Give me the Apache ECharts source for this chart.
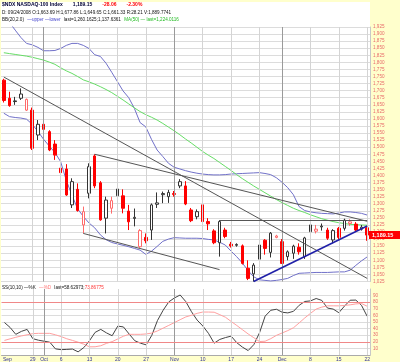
<!DOCTYPE html>
<html><head><meta charset="utf-8">
<script src="https://cdn.jsdelivr.net/npm/echarts@6/dist/echarts.min.js"></script>
<style>html,body{margin:0;padding:0;background:#FFFFCC}#c{width:400px;height:362px}</style>
</head><body><div id="c"></div><script>
const dates = ['2008-09-22','2008-09-23','2008-09-24','2008-09-25','2008-09-26','2008-09-29','2008-09-30',
'2008-10-01','2008-10-02','2008-10-03','2008-10-06','2008-10-07','2008-10-08','2008-10-09','2008-10-10',
'2008-10-13','2008-10-14','2008-10-15','2008-10-16','2008-10-17','2008-10-20','2008-10-21','2008-10-22','2008-10-23','2008-10-24',
'2008-10-27','2008-10-28','2008-10-29','2008-10-30','2008-10-31','2008-11-03','2008-11-04','2008-11-05','2008-11-06','2008-11-07',
'2008-11-10','2008-11-11','2008-11-12','2008-11-13','2008-11-14','2008-11-17','2008-11-18','2008-11-19','2008-11-20','2008-11-21',
'2008-11-24','2008-11-25','2008-11-26','2008-11-28','2008-12-01','2008-12-02','2008-12-03','2008-12-04','2008-12-05',
'2008-12-08','2008-12-09','2008-12-10','2008-12-11','2008-12-12','2008-12-15','2008-12-16','2008-12-17','2008-12-18','2008-12-19','2008-12-22'];
const opens  = [1737,1673,1663.69,1673,1631,1631,1543,1581,1555,1511,1426,1423,1296,1351,1225,1337,1469,1374,1249,1284,1328,1328,1274,1248,1148,1181,1207,1298,1332,1325,1336,1363,1363,1278,1254,1296,1237,1204,1162,1207,1157,1153,1151,1072,1052,1104,1171,1128,1181,1166,1113,1125,1146,1113,1201,1203,1218,1207,1172,1213,1213,1230,1228,1210,1215];
const closes = [1665,1647,1661.33,1688,1669,1496,1581,1563,1490,1472,1410,1331,1378,1276,1272,1431,1363,1243,1313,1311,1352,1284,1236,1252,1205,1169,1296,1303,1336,1340,1333,1378,1299,1240,1272,1237,1229,1162,1237,1184,1151,1156,1089,1036,1083,1154,1142,1196,1186,1089,1130,1150,1130,1179,1225,1210,1221,1178,1205,1181,1242,1236,1207,1217.21,1189.15];
const lows   = [1658,1643,1649.65,1667,1628,1490,1525,1555,1486,1455,1340,1328,1285,1272,1195,1319,1355,1240,1195,1265,1310,1266,1207,1220,1144,1160,1172,1285,1302,1303,1325,1355,1295,1235,1245,1230,1207,1157,1113,1178,1145,1148,1085,1030,1025,1095,1120,1110,1178,1087,1100,1105,1120,1105,1195,1195,1205,1172,1160,1175,1205,1222,1200,1205,1169];
const highs  = [1742,1696,1677.86,1708,1672,1640,1596,1585,1560,1525,1432,1440,1390,1372,1290,1443,1475,1380,1325,1325,1365,1351,1296,1283,1210,1195,1301,1340,1343,1349,1345,1387,1380,1285,1280,1300,1249,1210,1242,1215,1165,1160,1156,1100,1090,1165,1175,1200,1190,1175,1135,1155,1160,1183,1235,1225,1230,1215,1210,1218,1247,1245,1235,1225,1218];
const bbUpper = [1968,1941,1914,1888,1867,1862,1853,1841,1841,1842,1849,1860,1867,1867,1860,1849,1827,1821,1797,1765,1732,1699,1675,1637,1587,1572,1528,1490,1467,1443,1429,1423,1417,1412,1408,1405,1403,1402,1402,1403,1405,1406,1407,1408,1409,1410,1407,1403,1392,1376,1357,1332,1290,1276,1271,1268,1266,1265,1264,1267,1271,1271,1269,1266,1260];
const bbLower = [1620,1608,1605,1603,1599,1581,1556,1528,1504,1481,1449,1383,1330,1282,1255,1232,1215,1190,1173,1163,1158,1153,1148,1142,1136,1121,1132,1149,1167,1175,1180,1179,1178,1178,1178,1177,1174,1172,1164,1154,1133,1113,1091,1064,1042,1031,1029,1027,1029,1032,1036,1046,1054,1055,1056,1057,1057,1057,1058,1059,1059,1065,1082,1098,1112];
const ma50 = [1834,1831,1828,1825,1822,1818,1813,1808,1801,1793,1781,1770,1761,1750,1738,1731,1723,1714,1704,1693,1680,1667,1653,1639,1626,1615,1606,1596,1584,1571,1558,1544,1529,1515,1500,1485,1472,1460,1446,1432,1418,1403,1389,1376,1363,1351,1339,1327,1315,1304,1294,1284,1276,1269,1261,1254,1247,1242,1237,1233,1230,1227,1226,1225,1224];
const stochK = [49.2,41.7,31.3,35.8,38.8,24.8,22.4,20.9,19.4,9.3,8.1,8.5,9,4.8,11.2,21.6,34.3,38.8,33.5,29.2,43.8,42.5,31.8,21.6,17.9,15.4,29.8,52.2,67.8,80.5,86.5,90.9,80.9,65.6,52.9,44,32.8,17.9,23.6,26.4,28.6,18.6,11.9,6.7,15.7,33.5,58.9,67.8,69.3,64.8,63.8,66.2,75.3,81.1,82,85.6,82.7,71.1,69.6,64.1,74.1,83,83.2,75.3,58.63];
const stochD = [22.1,24.5,26.8,28.9,30.6,32.4,32.8,32.8,32.8,30.6,27.9,24.6,22.1,19.4,16.4,12.4,12.5,14,17.6,20.3,24.3,28.5,31.3,31.3,31.3,31.9,33.2,36.5,40.7,44.9,49.2,53.5,57.7,60.2,63.1,65.1,65.1,64.8,61.1,57.2,50.8,44.7,38.3,31.9,26.2,20.4,20.9,24.8,29.8,33.4,37,41.3,48.6,56.2,63.1,69.6,72.6,74.5,74.5,74.5,75.1,76,77.4,78,73.87];
const xTickLabels = {'2008-09-22':'Sep','2008-09-29':'29','2008-10-01':'Oct','2008-10-06':'6','2008-10-13':'13','2008-10-20':'20','2008-10-27':'27','2008-11-03':'Nov','2008-11-10':'10','2008-11-17':'17','2008-11-24':'24','2008-12-01':'Dec','2008-12-08':'8','2008-12-15':'15','2008-12-22':'22'};
const monthLines = ['2008-10-01','2008-11-03','2008-12-01'];
const weekLines = ['2008-09-29','2008-10-06','2008-10-13','2008-10-20','2008-10-27','2008-11-10','2008-11-17','2008-11-24','2008-12-08','2008-12-15','2008-12-22'];
const priceAxis = {min:1025, max:1925, step:25};
const stochAxis = {min:0, max:100, step:10};
const stochBands = [80, 20];
const trendLines = [
  [['2008-09-22',1748],['2008-12-22',1036]],
  [['2008-10-14',1475],['2008-12-22',1238]],
  [['2008-10-10',1195],['2008-11-13',1067]],
  [['2008-11-13',1242],['2008-12-22',1242]]
];
const supportLine = [['2008-11-21',1025],['2008-12-22',1221]];
const lastClose = 1189.15;

const FONT = 'Liberation Sans, Arial, sans-serif';
const fmt = v => Number(v).toLocaleString('en-US');
const candleData = dates.map((d,i)=>{
  const o=opens[i], c=closes[i];
  const red = i===0 ? true : c < closes[i-1];
  const filled = c < o;
  let fill, border;
  if (red) { border = filled ? '#FF0000' : '#FF6A6A'; fill = filled ? '#FF0000' : '#FFFFFF'; }
  else { border = '#333333'; fill = filled ? '#333333' : '#FFFFFF'; }
  return {value:[o,c,lows[i],highs[i]], itemStyle:{color:fill,color0:fill,borderColor:border,borderColor0:border,borderColorDoji:border,borderWidth:1}};
});
const vLines = weekLines.map(d=>({xAxis:d, lineStyle:{color:'#D4D4D4'}})).concat(monthLines.map(d=>({xAxis:d, lineStyle:{color:'#9A9A9A'}})));
const vLineMark = {symbol:['none','none'], silent:true, animation:false, label:{show:false}, lineStyle:{type:'solid',width:1}, data:vLines};

const chart = echarts.init(document.getElementById('c'), null, {renderer:'canvas'});
chart.setOption({
  animation:false,
  backgroundColor:'#FFFFCC',
  textStyle:{fontFamily:FONT},
  graphic:[
    {type:'rect', z:-100, silent:true, shape:{x:1,y:2,width:369,height:353}, style:{fill:'#FFFFFF'}},
    {type:'text', x:2, y:5, silent:true, style:{verticalAlign:'middle', text:'{b|$NDX NASDAQ-100 Index}   {b|1,189.15}   {r|-28.06}   {r|-2.30%}',
      rich:{b:{fontSize:5,fontFamily:FONT,fontWeight:'bold',fill:'#000033'}, r:{fontSize:5,fontFamily:FONT,fontWeight:'bold',fill:'#FF0000'}}}},
    {type:'text', x:2, y:13, silent:true, style:{verticalAlign:'middle', text:'D: 09/24/2008 O:1,663.69 H:1,677.86 L:1,649.65 C:1,661.33 R:28.21 V:1,889.7741', fontSize:4.6, fontFamily:FONT, fill:'#111'}},
    {type:'text', x:2, y:20, silent:true, style:{verticalAlign:'middle', text:'{k|BB(20,2.0)} {bl|—upper —lower} {k|last=1,260.1625;1,137.6361} {g|MA(50) — last=1,224.0116}',
      rich:{k:{fontSize:4.6,fontFamily:FONT,fill:'#111'}, bl:{fontSize:4.6,fontFamily:FONT,fill:'#4444CC'}, g:{fontSize:4.6,fontFamily:FONT,fill:'#22BB22'}}}},
    {type:'text', x:2, y:288, silent:true, style:{verticalAlign:'middle', text:'{k|SS(10,10) —%K} {p|—%D} {k|last=58.62973;}{r|73.86775}',
      rich:{k:{fontSize:4.6,fontFamily:FONT,fill:'#111'}, p:{fontSize:4.6,fontFamily:FONT,fill:'#FF7777'}, r:{fontSize:4.6,fontFamily:FONT,fill:'#FF3333'}}}}
  ],
  grid:[
    {left:1, top:27, width:369, height:254.5},
    {left:1, top:289, width:369, height:66}
  ],
  xAxis:[
    {type:'category', gridIndex:0, data:dates, boundaryGap:true, axisLabel:{show:false}, axisTick:{show:false}, axisLine:{show:false}, splitLine:{show:false}},
    {type:'category', gridIndex:1, data:dates, boundaryGap:true, axisTick:{show:false},
      axisLine:{show:true, lineStyle:{color:'#AAAAAA'}}, splitLine:{show:false},
      axisLabel:{show:true, interval:(i,v)=>xTickLabels[v]!==undefined, margin:2, fontSize:5, color:'#333399', fontFamily:FONT,
        formatter:(v)=> v==='2008-09-22' ? '{l|'+xTickLabels[v]+'}' : (xTickLabels[v]||''),
        rich:{l:{fontSize:5, color:'#333399', fontFamily:FONT, padding:[0,0,0,6]}}}}
  ],
  yAxis:[
    {type:'value', gridIndex:0, position:'right', min:priceAxis.min, max:priceAxis.max, interval:priceAxis.step,
      axisLine:{show:true, lineStyle:{color:'#C8C8C8'}}, axisTick:{show:false},
      axisLabel:{fontSize:4.6, color:'#E86A6A', margin:3, fontFamily:FONT, formatter:fmt},
      splitLine:{show:true, lineStyle:{color:'#DCDCDC', width:1}}},
    {type:'value', gridIndex:1, position:'right', min:stochAxis.min, max:stochAxis.max, interval:stochAxis.step,
      axisLine:{show:true, lineStyle:{color:'#C8C8C8'}}, axisTick:{show:false},
      axisLabel:{fontSize:4.6, color:'#E86A6A', margin:3, fontFamily:FONT, showMinLabel:false, showMaxLabel:false},
      splitLine:{show:true, showMaxLine:false, lineStyle:{color:'#DCDCDC', width:1}}}
  ],
  series:[
    {type:'line', name:'vgrid1', xAxisIndex:0, yAxisIndex:0, data:[], z:1, markLine:vLineMark},
    {type:'line', name:'vgrid2', xAxisIndex:1, yAxisIndex:1, data:[], z:1, markLine:vLineMark},
    {type:'line', name:'BB upper', xAxisIndex:0, yAxisIndex:0, data:bbUpper, symbol:'none', z:2, lineStyle:{color:'#7070C8', width:1}},
    {type:'line', name:'BB lower', xAxisIndex:0, yAxisIndex:0, data:bbLower, symbol:'none', z:2, lineStyle:{color:'#7070C8', width:1}},
    {type:'line', name:'MA50', xAxisIndex:0, yAxisIndex:0, data:ma50, symbol:'none', z:2, lineStyle:{color:'#66DD66', width:1}},
    {type:'candlestick', name:'NDX', xAxisIndex:0, yAxisIndex:0, data:candleData, barWidth:3, z:3,
      markLine:{symbol:['none','none'], silent:true, animation:false,
        data:[
          ...trendLines.map(t=>[{coord:t[0], lineStyle:{color:'#555555', width:1, type:'solid'}, label:{show:false}},{coord:t[1]}]),
          [{coord:supportLine[0], lineStyle:{color:'#2020A8', width:1.6, type:'solid'}, label:{show:false}},{coord:supportLine[1]}]
        ]}},
    {type:'line', name:'last', xAxisIndex:0, yAxisIndex:0, data:[], z:5,
      markLine:{symbol:['none','none'], silent:true, animation:false,
        data:[{yAxis:lastClose, lineStyle:{color:'rgba(0,0,0,0)', width:0}, label:{show:true, position:'end', distance:-1, formatter:fmt(lastClose), color:'#FFFFFF', backgroundColor:'#FF0000', fontSize:5.5, fontWeight:'bold', fontFamily:FONT, padding:[1,8,1,3]}}]}},
    {type:'line', name:'%K', xAxisIndex:1, yAxisIndex:1, data:stochK, symbol:'none', z:3, lineStyle:{color:'#444444', width:1},
      markLine:{symbol:['none','none'], silent:true, animation:false, label:{show:false}, lineStyle:{color:'#F08888', width:1, type:'solid'}, data:stochBands.map(v=>({yAxis:v}))}},
    {type:'line', name:'%D', xAxisIndex:1, yAxisIndex:1, data:stochD, symbol:'none', z:3, lineStyle:{color:'#FFA0A0', width:1}}
  ]
});
</script></body></html>
